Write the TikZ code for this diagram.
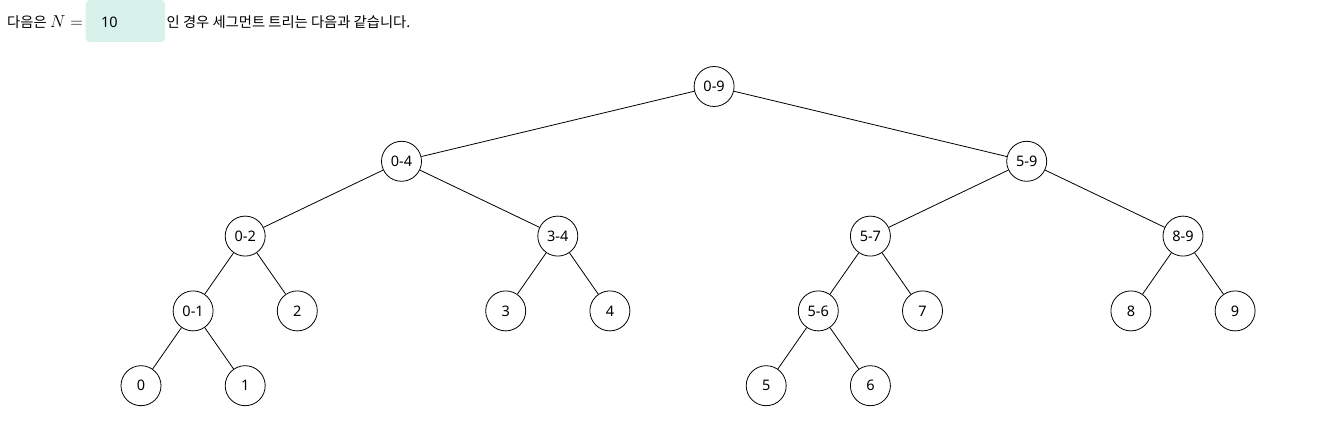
\documentclass[tikz,border=0pt]{standalone}
\usepackage{fontspec}
\setmainfont{Noto Sans}
\newfontfamily\krfont{Noto Sans CJK KR}
\definecolor{mintbox}{RGB}{217,241,235}
\begin{document}
\begin{tikzpicture}[x=1pt,y=-1pt,
  tnode/.style={circle,draw=black,line width=0.8pt,minimum size=40pt,inner sep=0pt,font=\fontsize{14.5}{17}\selectfont},
  tedge/.style={line width=0.8pt,black},
  krtext/.style={anchor=base west,inner sep=0pt,font=\krfont\fontsize{14.3}{17}\selectfont},
  valbox/.style={fill=mintbox,rounded corners=4pt,draw=none}]
\useasboundingbox (0,0) rectangle (1323,427);
% header line
\node[krtext] (t1) at (7,27.3) {다음은};
\node[anchor=base west,inner sep=0pt,font=\fontsize{16}{19}\selectfont] (tN) at (50,27.3) {$N=$};
\path[valbox] (85.7,0) rectangle (165,42);
\node[anchor=base west,inner sep=0pt,font=\fontsize{14.5}{17}\selectfont] (tv) at (101,27.3) {10};
\node[krtext] (t2) at (166.5,27.3) {인 경우 세그먼트 트리는 다음과 같습니다.};
% tree nodes: x = 141 + 52.1 k, y = 86.5 + 74.8 l
\node[tnode] (n09) at (714.1,86.5) {0-9};
\node[tnode] (n04) at (401.5,161.3) {0-4};
\node[tnode] (n59) at (1026.7,161.3) {5-9};
\node[tnode] (n02) at (245.2,236.1) {0-2};
\node[tnode] (n34) at (557.8,236.1) {3-4};
\node[tnode] (n57) at (870.4,236.1) {5-7};
\node[tnode] (n89) at (1183.0,236.1) {8-9};
\node[tnode] (n01) at (193.1,310.9) {0-1};
\node[tnode] (l2) at (297.3,310.9) {2};
\node[tnode] (l3) at (505.7,310.9) {3};
\node[tnode] (l4) at (609.9,310.9) {4};
\node[tnode] (n56) at (818.3,310.9) {5-6};
\node[tnode] (l7) at (922.5,310.9) {7};
\node[tnode] (l8) at (1130.9,310.9) {8};
\node[tnode] (l9) at (1235.1,310.9) {9};
\node[tnode] (l0) at (141.0,385.7) {0};
\node[tnode] (l1) at (245.2,385.7) {1};
\node[tnode] (l5) at (766.2,385.7) {5};
\node[tnode] (l6) at (870.4,385.7) {6};
% edges
\draw[tedge] (n09) -- (n04);
\draw[tedge] (n09) -- (n59);
\draw[tedge] (n04) -- (n02);
\draw[tedge] (n04) -- (n34);
\draw[tedge] (n59) -- (n57);
\draw[tedge] (n59) -- (n89);
\draw[tedge] (n02) -- (n01);
\draw[tedge] (n02) -- (l2);
\draw[tedge] (n34) -- (l3);
\draw[tedge] (n34) -- (l4);
\draw[tedge] (n57) -- (n56);
\draw[tedge] (n57) -- (l7);
\draw[tedge] (n89) -- (l8);
\draw[tedge] (n89) -- (l9);
\draw[tedge] (n01) -- (l0);
\draw[tedge] (n01) -- (l1);
\draw[tedge] (n56) -- (l5);
\draw[tedge] (n56) -- (l6);
\end{tikzpicture}
\end{document}
